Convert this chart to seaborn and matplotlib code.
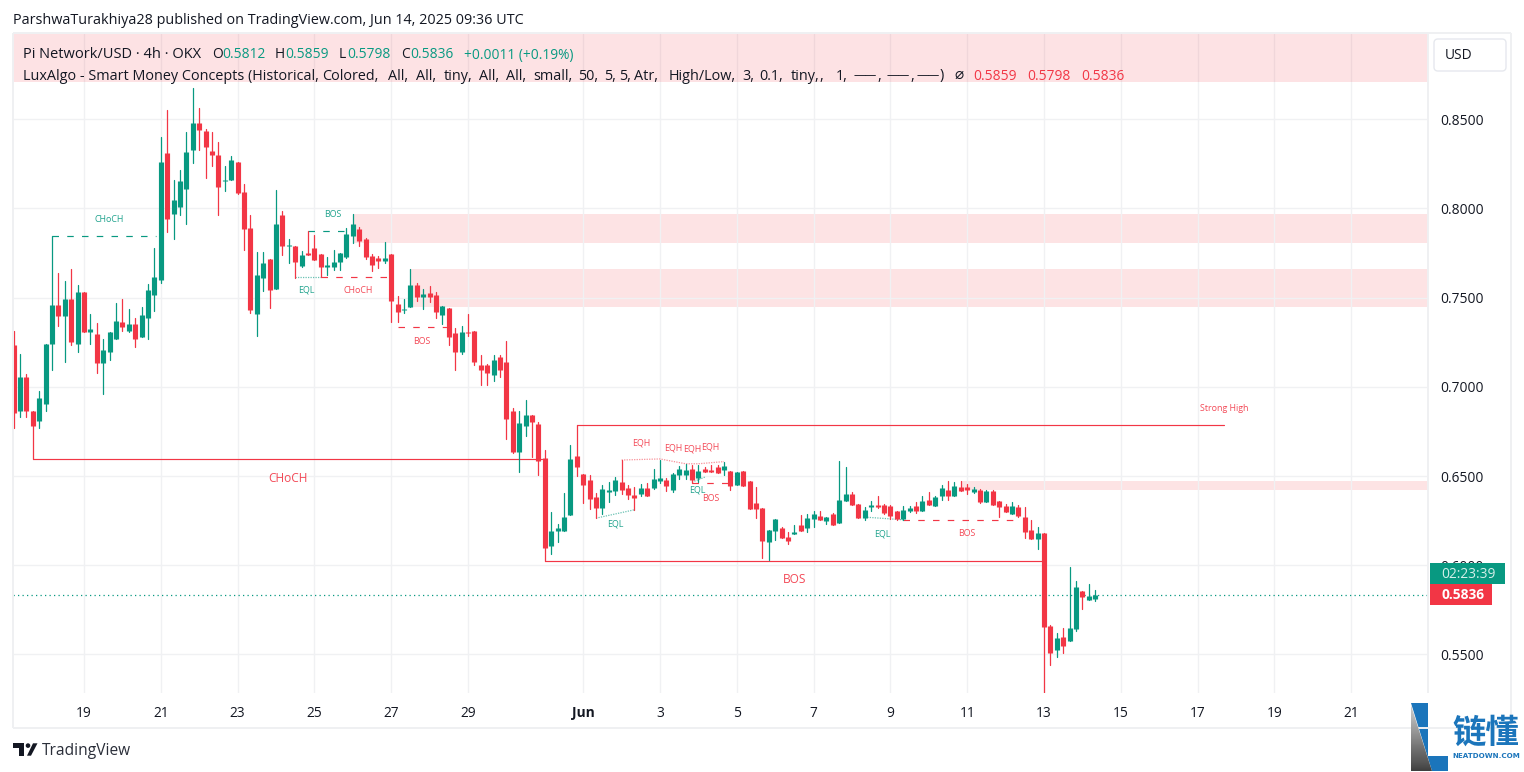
import numpy as np
import pandas as pd
import matplotlib
matplotlib.use("Agg")
import matplotlib.pyplot as plt
import seaborn as sns
from matplotlib.patches import Rectangle, Polygon, Circle, FancyBboxPatch

# 4h candles, Pi Network / USD
opens = [
    .7232, .6863, .7058, .6867, .6807, .6903, .7243, .7457, .7395, .7490,
    .7243, .7530, .7305, .7299, .7136, .7193, .7266, .7361, .7311, .7350,
    .7277, .7384, .7513, .7597, .8311, .7968, .8007, .8109, .8328, .8479,
    .8434, .8322, .8300, .8153, .8159, .8260, .8092, .7889, .7406, .7608,
    .7715, .7547, .7962, .7788, .7788, .7676, .7749, .7777, .7743, .7670,
    .7670, .7698, .7727, .7845, .7884, .7828, .7732, .7721, .7704, .7743,
    .7462, .7429, .7446, .7569, .7502, .7524, .7513, .7401, .7440, .7300,
    .7193, .7305, .7311, .7125, .7125, .7064, .7170, .7137, .6867, .6636,
    .6783, .6844, .6794, .6603, .6109, .6193, .6193, .6283, .6614, .6513,
    .6479, .6384, .6322, .6412, .6418, .6468, .6434, .6395, .6401, .6434,
    .6434, .6474, .6479, .6423, .6507, .6507, .6541, .6491, .6541, .6536,
    .6552, .6536, .6530, .6451, .6530, .6474, .6350, .6322, .6131, .6193,
    .6210, .6159, .6176, .6227, .6210, .6260, .6277, .6249, .6288, .6238,
    .6361, .6401, .6345, .6266, .6328, .6339, .6339, .6333, .6305, .6260,
    .6305, .6333, .6305, .6367, .6333, .6389, .6423, .6389, .6440, .6440,
    .6412, .6423, .6356, .6418, .6361, .6333, .6288, .6328, .6271, .6198,
    .6148, .6182, .5659, .5524, .5597, .5575, .5642, .5856, .5805, .5812,
]
closes = [
    .6852, .7058, .6863, .6779, .6940, .7243, .7457, .7395, .7490, .7249,
    .7530, .7305, .7322, .7136, .7204, .7305, .7372, .7333, .7350, .7271,
    .7401, .7541, .7614, .8260, .7940, .8047, .8153, .8316, .8479, .8440,
    .8345, .8300, .8120, .8159, .8272, .8086, .7884, .7429, .7625, .7693,
    .7541, .7912, .7788, .7794, .7698, .7738, .7738, .7710, .7670, .7682,
    .7698, .7749, .7856, .7912, .7816, .7727, .7682, .7704, .7721, .7479,
    .7417, .7434, .7569, .7502, .7519, .7502, .7417, .7451, .7277, .7193,
    .7305, .7300, .7142, .7097, .7075, .7148, .7092, .6822, .6636, .6799,
    .6844, .6805, .6586, .6097, .6193, .6210, .6271, .6597, .6552, .6451,
    .6373, .6322, .6429, .6423, .6479, .6423, .6395, .6378, .6434, .6390,
    .6485, .6491, .6446, .6513, .6541, .6536, .6479, .6530, .6524, .6524,
    .6519, .6558, .6446, .6524, .6446, .6316, .6316, .6137, .6198, .6260,
    .6153, .6137, .6187, .6193, .6266, .6288, .6255, .6271, .6227, .6367,
    .6401, .6339, .6266, .6311, .6339, .6328, .6294, .6277, .6260, .6311,
    .6322, .6305, .6361, .6339, .6384, .6434, .6389, .6446, .6418, .6423,
    .6429, .6356, .6418, .6339, .6328, .6300, .6333, .6277, .6187, .6148,
    .6182, .5653, .5507, .5592, .5547, .5648, .5878, .5822, .5828, .5836,
]
highs = [
    .7311, .7187, .7073, .6867, .6979, .7243, .7843, .7637, .7592, .7659,
    .7569, .7530, .7406, .7356, .7266, .7305, .7468, .7490, .7434, .7384,
    .7446, .7575, .7777, .8401, .8552, .8159, .8215, .8429, .8676, .8564,
    .8446, .8429, .8373, .8238, .8294, .8260, .8137, .7962, .7755, .7755,
    .7715, .8103, .7985, .7828, .7788, .7760, .7876, .7850, .7743, .7727,
    .7766, .7749, .7889, .7968, .7895, .7833, .7743, .7732, .7811, .7743,
    .7507, .7491, .7659, .7580, .7547, .7564, .7530, .7451, .7440, .7328,
    .7339, .7406, .7311, .7176, .7131, .7176, .7176, .7255, .6884, .6867,
    .6929, .6844, .6805, .6648, .6300, .6232, .6406, .6676, .6787, .6513,
    .6507, .6406, .6451, .6468, .6496, .6592, .6451, .6440, .6457, .6463,
    .6541, .6592, .6491, .6519, .6558, .6569, .6564, .6564, .6552, .6564,
    .6564, .6581, .6530, .6524, .6530, .6474, .6440, .6322, .6198, .6260,
    .6215, .6187, .6227, .6283, .6288, .6305, .6305, .6271, .6294, .6586,
    .6552, .6412, .6345, .6328, .6361, .6389, .6345, .6339, .6305, .6333,
    .6333, .6356, .6389, .6412, .6389, .6451, .6474, .6468, .6474, .6457,
    .6440, .6429, .6423, .6423, .6361, .6345, .6356, .6339, .6328, .6255,
    .6215, .6182, .5665, .5620, .5648, .5991, .5912, .5856, .5895, .5859,
]
lows = [
    .6768, .6830, .6830, .6594, .6768, .6863, .7092, .7339, .7142, .7232,
    .7198, .7305, .7243, .7075, .6962, .7153, .7266, .7311, .7305, .7226,
    .7277, .7271, .7423, .7580, .7867, .7828, .7962, .7912, .8255, .8328,
    .8170, .8238, .7962, .8097, .8159, .8080, .7766, .7412, .7283, .7535,
    .7440, .7547, .7738, .7693, .7612, .7670, .7738, .7710, .7616, .7625,
    .7653, .7653, .7721, .7805, .7788, .7715, .7648, .7665, .7693, .7361,
    .7361, .7412, .7446, .7479, .7434, .7474, .7384, .7350, .7232, .7097,
    .7187, .7283, .7120, .7013, .7013, .7035, .7058, .6710, .6631, .6524,
    .6726, .6608, .6507, .6022, .6064, .6131, .6193, .6283, .6502, .6350,
    .6316, .6264, .6288, .6356, .6395, .6401, .6373, .6311, .6390, .6390,
    .6429, .6463, .6418, .6412, .6485, .6485, .6463, .6468, .6524, .6524,
    .6519, .6507, .6423, .6451, .6446, .6316, .6266, .6041, .6030, .6142,
    .6153, .6120, .6176, .6193, .6187, .6215, .6255, .6232, .6227, .6238,
    .6361, .6339, .6266, .6255, .6305, .6322, .6288, .6260, .6255, .6255,
    .6300, .6294, .6305, .6339, .6333, .6367, .6367, .6389, .6418, .6401,
    .6406, .6350, .6356, .6339, .6271, .6300, .6288, .6271, .6153, .6148,
    .6092, .5283, .5440, .5485, .5507, .5575, .5631, .5755, .5805, .5798,
]

price_ticks = [0.85, 0.80, 0.75, 0.70, 0.65, 0.60, 0.55]
day_bars = [11, 23, 35, 47, 59, 71, 89, 101, 113, 125, 137, 149, 161, 173, 185, 197, 209]
day_labels = ["19", "21", "23", "25", "27", "29", "Jun", "3", "5", "7", "9", "11", "13", "15", "17", "19", "21"]
last_price = 0.5836

# order block zones: first bar, top, bottom
zone_starts = [53, 62, 148]
zone_tops = [.7968, .7659, .6474]
zone_bottoms = [.7807, .7446, .6423]

# structure lines
solid_bars = [(3, 82.5), (83, 161), (88, 189.2)]
solid_prices = [.6594, .6022, .6785]
red_dash_bars = [(48, 58.7), (60, 67.8), (106, 111.7), (139, 157)]
red_dash_prices = [.7618, .7333, .6461, .6253]
green_dash_bars = [(6, 22.2), (46, 52.7)]
green_dash_prices = [.7843, .7876]
eql_bars = [(44, 48), (91, 97), (106, 108), (133, 139)]
eql_prices = [(.7614, .7614), (.6264, .6311), (.6466, .6494), (.6270, .6255)]
eqh_bars = [95, 101, 105, 107, 111]
eqh_prices = [.6590, .6596, .6569, .6569, .6581]

# small labels
green_labels = ["CHoCH", "BOS", "EQL", "EQL", "EQL", "EQL"]
green_label_bars = [14.9, 49.9, 45.8, 94, 106.9, 135.8]
green_label_prices = [.7936, .7964, .7543, .6232, .6422, .6176]
red_labels = ["CHoCH", "BOS", "Strong High", "EQH", "EQH", "EQH", "EQH", "BOS", "BOS"]
red_label_bars = [53.8, 63.8, 189.1, 98, 103, 106, 108.9, 109, 149]
red_label_prices = [.7543, .7252, .6876, .6686, .6658, .6652, .6663, .6377, .6176]
big_labels = ["CHoCH", "BOS"]
big_label_bars = [42.9, 122.1]
big_label_prices = [.6484, .5923]

# indicator title, word by word so the spacing follows the picture
title_words = ["LuxAlgo - Smart Money Concepts (Historical,", "Colored,", "All,", "All,", "tiny,", "All,", "All,",
               "small,", "50,", "5,", "5,", "Atr,", "High/Low,", "3,", "0.1,", "tiny,", ",", "1,", ",", ",", ")"]
title_word_x = [23, 322, 388, 416, 444, 479, 506, 533, 578, 604, 619, 634, 669, 742, 759, 791, 819, 836, 877, 910, 940]
title_dash_x = [854, 887, 917]

GREEN = "#089981"
RED = "#f23645"
TEXT = "#131722"
GRID = "#f0f1f3"
PINK = "#fde3e4"
FRAME = "#eff0f2"
FS = 9.9
FS_HEAD = 10.35

sns.set_theme(style="white")
plt.rcParams["font.family"] = ["Open Sans", "DejaVu Sans"]

df = pd.DataFrame({"bar": np.arange(len(opens)), "open": opens, "high": highs, "low": lows, "close": closes})
df["direction"] = np.where(df["close"] >= df["open"], "up", "down")
wicks = df.melt(id_vars=["bar", "direction"], value_vars=["high", "low"], value_name="price")
bodies = df.melt(id_vars=["bar", "direction"], value_vars=["open", "close"], value_name="price")
palette = {"up": GREEN, "down": RED}

fig = plt.figure(figsize=(15.24, 7.72), dpi=100, facecolor="white")
W, H = 1524, 772
ax = fig.add_axes([13 / W, 1 - 693 / H, (1428 - 13) / W, (693 - 34) / H])

for start, top, bottom in zip(zone_starts, zone_tops, zone_bottoms):
    ax.add_patch(Rectangle((start, bottom), 230 - start, top - bottom, color=PINK, lw=0, zorder=0.5))

ax.set_yticks(price_ticks)
ax.set_yticklabels([f"{p:.4f}" for p in price_ticks])
ax.set_xticks(day_bars)
ax.set_xticklabels(day_labels)
ax.grid(True, color=GRID, lw=1.0, zorder=1)
ax.set_axisbelow(True)
ax.tick_params(axis="y", left=False, right=False, length=0, labelleft=False, labelright=True,
               pad=8.5, labelsize=FS, labelcolor=TEXT)
ax.tick_params(axis="x", bottom=False, length=0, pad=9.5, labelsize=FS, labelcolor=TEXT)
for lab in ax.get_xticklabels():
    if lab.get_text() == "Jun":
        lab.set_fontweight("bold")
sns.despine(ax=ax, left=True, bottom=True, right=True, top=True)

sns.lineplot(data=wicks, x="bar", y="price", hue="direction", units="bar", estimator=None,
             palette=palette, legend=False, linewidth=0.9, zorder=3, ax=ax)
sns.lineplot(data=bodies, x="bar", y="price", hue="direction", units="bar", estimator=None,
             palette=palette, legend=False, linewidth=3.7, solid_capstyle="butt", zorder=3, ax=ax)

for bars, p in zip(solid_bars, solid_prices):
    ax.plot(bars, [p, p], color=RED, lw=0.85, zorder=2)
for bars, p in zip(red_dash_bars, red_dash_prices):
    ax.plot(bars, [p, p], color=RED, lw=0.85, dashes=(5.5, 7), zorder=2)
for bars, p in zip(green_dash_bars, green_dash_prices):
    ax.plot(bars, [p, p], color=GREEN, lw=0.85, dashes=(5.5, 7), zorder=2)
for bars, p in zip(eql_bars, eql_prices):
    ax.plot(bars, p, color=GREEN, lw=0.9, ls=(0, (1, 1)), alpha=0.6, zorder=2)
ax.plot(eqh_bars, eqh_prices, color=RED, lw=0.9, ls=(0, (1, 1)), alpha=0.55, zorder=2)
ax.axhline(last_price, color=GREEN, lw=0.9, ls=(0, (1, 2.6)), zorder=2)

for t, b, p in zip(green_labels, green_label_bars, green_label_prices):
    ax.text(b, p, t, color=GREEN, fontsize=6.4, ha="center", va="center", alpha=0.9)
for t, b, p in zip(red_labels, red_label_bars, red_label_prices):
    ax.text(b, p, t, color=RED, fontsize=6.4, ha="center", va="center", alpha=0.9)
for t, b, p in zip(big_labels, big_label_bars, big_label_prices):
    ax.text(b, p, t, color=RED, fontsize=8.6, ha="center", va="center", alpha=0.9)

ax.set_xlabel("")
ax.set_ylabel("")
ax.set_xlim(-0.094, 221)
ax.set_ylim(0.5284, 0.8978)

# page furniture, drawn in pixel coordinates on a transparent overlay
ov = fig.add_axes([0, 0, 1, 1], facecolor="none", zorder=5)
ov.axis("off")

ov.add_patch(Rectangle((13, 34), 1415, 48, color=RED, alpha=0.14, lw=0))
for xs, ys in [((13, 13), (33, 728)), ((13, 1511), (33, 33)), ((1511, 1511), (33, 728)),
               ((13, 1511), (728, 728)), ((1428, 1428), (33, 693))]:
    ov.plot(xs, ys, color=FRAME, lw=1.4, solid_capstyle="butt")

ov.text(13, 20.5, "ParshwaTurakhiya28 published on TradingView.com, Jun 14, 2025 09:36 UTC",
        color=TEXT, fontsize=FS_HEAD, va="center")
ov.text(23, 55, "Pi Network/USD · 4h · OKX", color=TEXT, fontsize=FS_HEAD + 0.2, va="center")
for x, t, c in [(212, "O", TEXT), (222, "0.5812", GREEN), (275, "H", TEXT), (285, "0.5859", GREEN),
                (339, "L", TEXT), (347, "0.5798", GREEN), (401, "C", TEXT), (410, "0.5836", GREEN),
                (464, "+0.0011 (+0.19%)", GREEN)]:
    ov.text(x, 55, t, color=c, fontsize=FS, va="center")
for x, t in zip(title_word_x, title_words):
    ov.text(x, 76, t, color=TEXT, fontsize=FS_HEAD, va="center")
for x in title_dash_x:
    ov.text(x, 76, "——", color=TEXT, fontsize=8.4, va="center")
ov.text(954, 75, "⌀", color=TEXT, fontsize=11, va="center")
for x, t in [(973, "0.5859"), (1027, "0.5798"), (1081, "0.5836")]:
    ov.text(x, 76, t, color=RED, fontsize=FS, va="center")

ov.add_patch(FancyBboxPatch((1437, 42), 66, 26, boxstyle="round,pad=3,rounding_size=4",
                            fc="white", ec="#e6e8ee", lw=1))
ov.text(1445, 55.5, "USD", color=TEXT, fontsize=FS, va="center")

ov.add_patch(Rectangle((1430, 563), 75, 21, color=GREEN, lw=0))
ov.add_patch(Rectangle((1430, 584), 62, 21, color=RED, lw=0))
ov.text(1441, 574, "02:23:39", color="#d5efe9", fontsize=FS, va="center")
ov.text(1441, 595, "0.5836", color="white", fontsize=FS, va="center", fontweight="bold")

# TradingView mark
for pts in [[(13.3, 743.3), (24, 743.3), (24, 755.7), (18.5, 755.7), (18.5, 747.5), (13.3, 747.5)],
            [(27, 755.7), (33, 743.3), (37.5, 743.3), (31, 755.7)]]:
    ov.add_patch(Polygon(pts, color="#131722", lw=0))
ov.add_patch(Circle((28, 745.6), 2.3, color="#131722", lw=0))
ov.text(42, 751, "TradingView", color="#2a2e39", fontsize=11.2, va="center")

# watermark, bottom right
ov.add_patch(Rectangle((1404, 702), 120, 70, color="white", lw=0))
ov.add_patch(Polygon([(1411, 702.7), (1427.7, 702.7), (1427.7, 756), (1447.7, 756), (1447.7, 770.7), (1432.3, 770.7)],
                     color="#1b75bb", lw=0))
grad = ov.imshow(np.linspace(0.3, 0.8, 64).reshape(-1, 1), extent=[1411, 1433, 771, 705], cmap="Greys",
                 vmin=0, vmax=1, aspect="auto", zorder=2)
tri = Polygon([(1411, 705), (1411, 770.7), (1432.3, 770.7)], transform=ov.transData, fc="none", lw=0)
ov.add_patch(tri)
grad.set_clip_path(tri)
ov.text(1485.5, 733, "链懂", color="#1b75bb", fontsize=24, fontweight="bold", ha="center", va="center",
        family=["Noto Sans CJK SC", "DejaVu Sans"])
ov.text(1486.5, 755.5, "NEATDOWN.COM", color="#1b75bb", fontsize=5.1, fontweight="bold", ha="center", va="center",
        family="DejaVu Sans")

ov.set_xlim(0, W)
ov.set_ylim(H, 0)

fig.savefig("out.png", dpi=100)
